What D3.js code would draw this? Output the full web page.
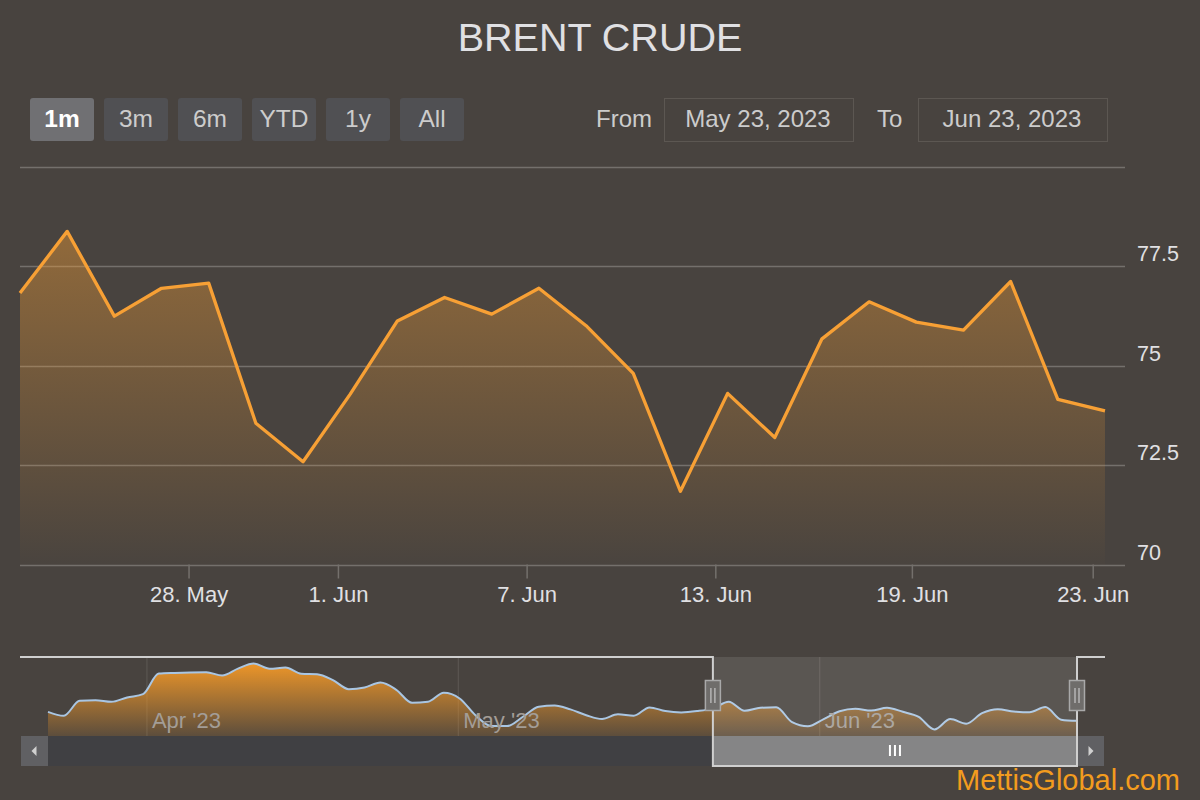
<!DOCTYPE html>
<html>
<head>
<meta charset="utf-8">
<script src="https://cdn.jsdelivr.net/npm/d3@7"></script>
<style>
  body { margin: 0; background: #48433f; }
  svg { display: block; font-family: "Liberation Sans", Arial, sans-serif; }
</style>
</head>
<body>
<div id="chart"></div>
<script>
// ---- data ----
var mainDates = ["2023-05-23","2023-05-24","2023-05-25","2023-05-26","2023-05-29","2023-05-30",
  "2023-05-31","2023-06-01","2023-06-02","2023-06-05","2023-06-06","2023-06-07","2023-06-08",
  "2023-06-09","2023-06-12","2023-06-13","2023-06-14","2023-06-15","2023-06-16","2023-06-19",
  "2023-06-20","2023-06-21","2023-06-22","2023-06-23"];
var mainPrices = [76.82, 78.37, 76.24, 76.94, 77.07, 73.55, 72.58, 74.28, 76.12, 76.71, 76.29, 76.94,
  76.0, 74.8, 71.84, 74.3, 73.19, 75.67, 76.6, 76.09, 75.89, 77.11, 74.15, 73.86];

// earlier history only visible in the navigator
var historyDates = ["2023-03-23","2023-03-24","2023-03-27","2023-03-28","2023-03-29","2023-03-30",
  "2023-03-31","2023-04-03","2023-04-04","2023-04-05","2023-04-06","2023-04-10","2023-04-11",
  "2023-04-12","2023-04-13","2023-04-14","2023-04-17","2023-04-18","2023-04-19","2023-04-20",
  "2023-04-21","2023-04-24","2023-04-25","2023-04-26","2023-04-27","2023-04-28","2023-05-01",
  "2023-05-02","2023-05-03","2023-05-04","2023-05-05","2023-05-08","2023-05-09","2023-05-10",
  "2023-05-11","2023-05-12","2023-05-15","2023-05-16","2023-05-17","2023-05-18","2023-05-19",
  "2023-05-22"];
var historyPrices = [76.0, 75.07, 78.6, 78.76, 78.36, 79.4, 80.17, 85.04, 85.2, 85.3, 85.35, 84.57,
  86.2, 87.4, 86.2, 86.45, 85.0, 84.88, 83.5, 81.35, 81.75, 82.9, 81.2, 78.13, 78.36, 80.5, 79.16,
  75.2, 72.64, 72.64, 74.83, 77.2, 77.5, 76.57, 75.2, 74.29, 75.4, 75.07, 77.04, 76.17, 75.86, 76.17];

var rangeButtons = ["1m", "3m", "6m", "YTD", "1y", "All"];
var selectedButton = "1m";
var yTicks = [70, 72.5, 75, 77.5, 80];
var xTickDates = ["2023-05-28", "2023-06-01", "2023-06-07", "2023-06-13", "2023-06-19", "2023-06-23"];
var navTickDates = ["2023-04-01", "2023-05-01", "2023-06-01"];
var fromText = "May 23, 2023";
var toText = "Jun 23, 2023";

// ---- layout ----
var W = 1200, H = 800;
var plot = { left: 20, right: 1125, lastX: 1105, top: 166.5, bottom: 564.5 };
var nav = { left: 48, right: 1077, top: 657, bottom: 736, outlineLeft: 20, outlineRight: 1105 };
var scroll = { top: 736, bottom: 766, btn: 27 };
var orange = "#f7a035";

var parseDay = d3.utcParse("%Y-%m-%d");
// quotes are stamped in the morning, ticks fall on midnight
var stamp = function(s) { return d3.utcHour.offset(parseDay(s), 6); };

// ordinal time axis: trading days equally spaced, dates in between interpolated
function ordinalScale(times, x0, x1) {
  var toIndex = d3.scaleLinear().domain(times).range(d3.range(times.length));
  var toPx = d3.scaleLinear().domain([0, times.length - 1]).range([x0, x1]);
  return function(t) { return toPx(toIndex(t)); };
}

var mainData = mainDates.map(function(d, i) { return { date: stamp(d), value: mainPrices[i] }; });
var navData = historyDates.concat(mainDates).map(function(d, i) {
  return { date: stamp(d), value: historyPrices.concat(mainPrices)[i] };
});

var x = ordinalScale(mainData.map(d => d.date), plot.left, plot.lastX);
var y = d3.scaleLinear().domain([70, 80]).range([plot.bottom, plot.top]);

var navX = ordinalScale(navData.map(d => d.date), nav.left, nav.right);
var navExt = d3.extent(navData, d => d.value);
var pad = (navExt[1] - navExt[0]) * 0.1;
var navY = d3.scaleLinear().domain([navExt[0] - pad, navExt[1] + pad]).range([nav.bottom, nav.top]);

var svg = d3.select("#chart").append("svg").attr("width", W).attr("height", H);
svg.append("rect").attr("width", W).attr("height", H).attr("fill", "#48433f");

var defs = svg.append("defs");
var g1 = defs.append("linearGradient").attr("id", "mainFill").attr("x1", 0).attr("y1", 0).attr("x2", 0).attr("y2", 1);
g1.append("stop").attr("offset", 0).attr("stop-color", orange).attr("stop-opacity", 0.42);
g1.append("stop").attr("offset", 1).attr("stop-color", orange).attr("stop-opacity", 0.01);
var g2 = defs.append("linearGradient").attr("id", "navFill").attr("x1", 0).attr("y1", 0).attr("x2", 0).attr("y2", 1);
g2.append("stop").attr("offset", 0).attr("stop-color", "#f59a28").attr("stop-opacity", 0.95);
g2.append("stop").attr("offset", 1).attr("stop-color", "#f59a28").attr("stop-opacity", 0.12);

// title
svg.append("text").attr("x", W / 2).attr("y", 51).attr("text-anchor", "middle")
  .attr("fill", "#e0e0e3").style("font-size", "39.5px").text("BRENT CRUDE");

// range selector buttons
var btn = svg.append("g").selectAll("g").data(rangeButtons).join("g")
  .attr("transform", (d, i) => "translate(" + (30 + i * 74) + ",98)");
btn.append("rect").attr("width", 64).attr("height", 43).attr("rx", 3)
  .attr("fill", d => d === selectedButton ? "#707073" : "#505053");
btn.append("text").attr("x", 32).attr("y", 29).attr("text-anchor", "middle")
  .attr("fill", d => d === selectedButton ? "#ffffff" : "#cccccc")
  .style("font-weight", d => d === selectedButton ? "bold" : "normal")
  .style("font-size", "24.5px").text(d => d);

// date inputs
var inputs = [{ label: "From", lx: 596, bx: 664, text: fromText }, { label: "To", lx: 877, bx: 918, text: toText }];
var inp = svg.append("g").selectAll("g").data(inputs).join("g");
inp.append("text").attr("x", d => d.lx).attr("y", 127).attr("fill", "#cccccc")
  .style("font-size", "24px").text(d => d.label);
inp.append("rect").attr("x", d => d.bx + 0.5).attr("y", 98.5).attr("width", 189).attr("height", 43)
  .attr("fill", "none").attr("stroke", "#5c5752");
inp.append("text").attr("x", d => d.bx + 94).attr("y", 127).attr("text-anchor", "middle")
  .attr("fill", "#cccccc").style("font-size", "24px").text(d => d.text);

// y grid and labels
var yg = svg.append("g").selectAll("g").data(yTicks).join("g");
yg.append("line").attr("x1", plot.left).attr("x2", plot.right)
  .attr("y1", d => Math.round(y(d)) + 0.5).attr("y2", d => Math.round(y(d)) + 0.5)
  .attr("stroke", "#74706c").attr("stroke-width", 1.5);
yg.filter(d => d < 80).append("text").attr("x", 1137).attr("y", d => y(d) - 5)
  .attr("fill", "#e0e0e3").style("font-size", "21.5px").text(d => d);

// x ticks and labels
var xt = svg.append("g").selectAll("g").data(xTickDates).join("g")
  .attr("transform", d => "translate(" + x(parseDay(d)) + ",0)");
xt.append("line").attr("y1", plot.bottom).attr("y2", plot.bottom + 14).attr("stroke", "#74706c").attr("stroke-width", 1.5);
xt.append("text").attr("y", 602).attr("text-anchor", "middle").attr("fill", "#e0e0e3")
  .style("font-size", "22px").text(d => d3.utcFormat("%-d. %b")(parseDay(d)));

// main series
svg.append("path").datum(mainData).attr("fill", "url(#mainFill)")
  .attr("d", d3.area().x(d => x(d.date)).y0(plot.bottom).y1(d => y(d.value)));
svg.append("path").datum(mainData).attr("fill", "none").attr("stroke", orange).attr("stroke-width", 3.3)
  .attr("stroke-linejoin", "round")
  .attr("d", d3.line().x(d => x(d.date)).y(d => y(d.value)));

// navigator
var selX0 = navX(mainData[0].date), selX1 = navX(mainData[mainData.length - 1].date);
var ng = svg.append("g");
ng.selectAll("line.grid").data(navTickDates).join("line").attr("class", "grid")
  .attr("x1", d => navX(parseDay(d))).attr("x2", d => navX(parseDay(d)))
  .attr("y1", nav.top).attr("y2", nav.bottom).attr("stroke", "#5e5955").attr("stroke-width", 1);
ng.append("path").datum(navData).attr("fill", "url(#navFill)")
  .attr("d", d3.area().curve(d3.curveMonotoneX).x(d => navX(d.date)).y0(nav.bottom).y1(d => navY(d.value)));
ng.append("path").datum(navData).attr("fill", "none").attr("stroke", "#a9c6e3").attr("stroke-width", 2)
  .attr("d", d3.line().curve(d3.curveMonotoneX).x(d => navX(d.date)).y(d => navY(d.value)));
ng.selectAll("text").data(navTickDates).join("text")
  .attr("x", d => navX(parseDay(d)) + 5).attr("y", 728).attr("fill", "#a39d97")
  .style("font-size", "22px").text(d => d3.utcFormat("%b '%y")(parseDay(d)));
ng.append("rect").attr("x", selX0).attr("y", nav.top).attr("width", selX1 - selX0)
  .attr("height", nav.bottom - nav.top).attr("fill", "rgba(255,255,255,0.1)");

// scrollbar
var sb = svg.append("g");
sb.append("rect").attr("x", nav.left - scroll.btn).attr("y", scroll.top).attr("width", nav.right - nav.left + 2 * scroll.btn)
  .attr("height", scroll.bottom - scroll.top).attr("fill", "#404043");
[nav.left - scroll.btn, nav.right].forEach(function(bx, i) {
  sb.append("rect").attr("x", bx).attr("y", scroll.top).attr("width", scroll.btn)
    .attr("height", scroll.bottom - scroll.top).attr("fill", "#606063");
  var cx = bx + scroll.btn / 2, cy = (scroll.top + scroll.bottom) / 2, s = i === 0 ? -1 : 1;
  sb.append("path").attr("fill", "#d0d0d0")
    .attr("d", "M" + (cx - 2 * s) + "," + (cy - 5) + "L" + (cx + 3 * s) + "," + cy + "L" + (cx - 2 * s) + "," + (cy + 5) + "Z");
});
sb.append("rect").attr("x", selX0).attr("y", scroll.top).attr("width", selX1 - selX0)
  .attr("height", scroll.bottom - scroll.top).attr("fill", "#858586");
var gx = (selX0 + selX1) / 2;
[-5, 0, 5].forEach(function(o) {
  sb.append("line").attr("x1", gx + o).attr("x2", gx + o).attr("y1", 745).attr("y2", 756)
    .attr("stroke", "#ffffff").attr("stroke-width", 2);
});

// navigator outline
svg.append("path").attr("fill", "none").attr("stroke", "#cfcfcf").attr("stroke-width", 2)
  .attr("d", "M" + nav.outlineLeft + "," + nav.top + "H" + selX0 + "V" + scroll.bottom + "H" + selX1 +
    "V" + nav.top + "H" + nav.outlineRight);

// handles
[selX0, selX1].forEach(function(hx) {
  var hg = svg.append("g").attr("transform", "translate(" + hx + ",680)");
  hg.append("rect").attr("x", -7.5).attr("y", 0.5).attr("width", 15).attr("height", 30)
    .attr("fill", "#6f6d6b").attr("stroke", "#a9a9a9").attr("stroke-width", 1.5);
  [-2, 2].forEach(function(o) {
    hg.append("line").attr("x1", o).attr("x2", o).attr("y1", 8).attr("y2", 23)
      .attr("stroke", "#b5b5b5").attr("stroke-width", 1.5);
  });
});

// watermark
svg.append("text").attr("x", 1180).attr("y", 790).attr("text-anchor", "end")
  .attr("fill", "#f39c1e").style("font-size", "29px").text("MettisGlobal.com");
</script>
</body>
</html>
